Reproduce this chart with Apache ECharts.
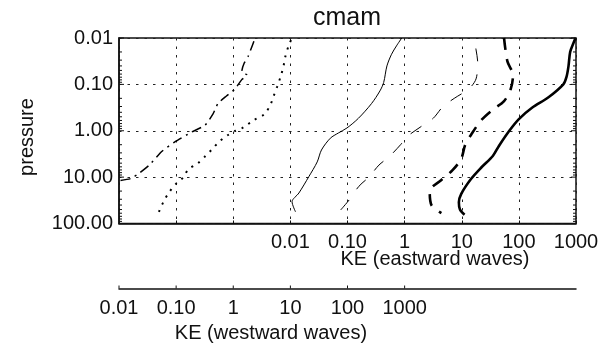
<!DOCTYPE html>
<html>
<head>
<meta charset="utf-8">
<script src="https://cdn.jsdelivr.net/npm/echarts@6/dist/echarts.min.js"></script>
<style>
  html, body { margin: 0; padding: 0; background: #fff; }
  #chart { width: 603px; height: 349px; }
</style>
</head>
<body>
<div id="chart"></div>
<script>
// ---- Eastward-wave kinetic energy profiles (KE vs pressure) ----
const pThickSolid  = [0.01, 0.013, 0.02, 0.04, 0.07, 0.1, 0.19, 0.32, 0.56, 1.0, 2.1, 3.5, 6.2, 11, 23, 35, 50, 65];
const keThickSolid = [980, 900, 790, 740, 680, 600, 330, 170, 100, 68, 45, 35, 22, 14.5, 9.8, 8.9, 9.3, 11.2];

const pThickDash   = [0.01, 0.032, 0.063, 0.126, 0.23, 0.35, 0.59, 1.23, 2.0, 4.0, 7.1, 11.5, 20, 40, 60];
const keThickDash  = [55, 63, 79, 72, 55, 35, 22, 14.5, 11.5, 9.8, 6.9, 4.4, 2.75, 2.95, 4.4];

const pThinDash    = [51, 31, 15.8, 9.8, 5.5, 3.6, 2.0, 1.32, 0.81, 0.54, 0.30, 0.20, 0.123, 0.076, 0.033, 0.018, 0.0126];
const keThinDash   = [0.076, 0.107, 0.158, 0.24, 0.355, 0.54, 0.85, 1.12, 1.95, 3.16, 4.7, 7.4, 13.5, 17.8, 19, 17.8, 17];

const pThinSolid   = [56, 34, 22, 9.8, 4.7, 2.6, 1.45, 1.12, 0.87, 0.54, 0.26, 0.138, 0.091, 0.04, 0.0224, 0.0148, 0.01];
const keThinSolid  = [0.0123, 0.0107, 0.0141, 0.021, 0.0295, 0.035, 0.05, 0.069, 0.098, 0.155, 0.263, 0.37, 0.43, 0.49, 0.59, 0.72, 0.89];

// ---- Westward-wave kinetic energy profiles ----
const pDotted      = [56, 34, 22, 13.5, 10, 6.9, 5.0, 3.6, 2.4, 1.74, 1.26, 1.0, 0.85, 0.6, 0.44, 0.27, 0.178, 0.11, 0.066, 0.04, 0.026, 0.0148, 0.01];
const keDotted     = [0.05, 0.06, 0.074, 0.102, 0.135, 0.162, 0.24, 0.32, 0.44, 0.56, 0.79, 1.1, 1.5, 2.24, 3.5, 4.5, 5.1, 5.9, 6.8, 7.6, 8.1, 9.3, 10.7];

const pDashDot     = [0.0117, 0.025, 0.035, 0.052, 0.063, 0.079, 0.126, 0.178, 0.26, 0.44, 0.76, 1.07, 1.74, 2.8, 5.5, 8.3, 10.7, 12];
const keDashDot    = [2.3, 1.82, 1.55, 1.41, 1.74, 1.41, 1.07, 0.76, 0.54, 0.44, 0.32, 0.186, 0.095, 0.056, 0.034, 0.0224, 0.0162, 0.0100];

// ---- Axis ranges and tick labels ----
const eastRange = [1e-5, 1000];
const westRange = [0.01, 1e6];
const pRange = [0.01, 100];
const yTickValues = [0.01, 0.1, 1, 10, 100];
const yTickLabels = ['0.01', '0.10', '1.00', '10.00', '100.00'];
const eastTickValues = [0.01, 0.1, 1, 10, 100, 1000];
const eastTickLabels = ['0.01', '0.10', '1', '10', '100', '1000'];
const westTickValues = [0.01, 0.1, 1, 10, 100, 1000];
const westTickLabels = ['0.01', '0.10', '1', '10', '100', '1000'];

const FONT = '"Liberation Sans", Arial, Helvetica, sans-serif';
const INK = '#111';
const WEST_OFFSET = 65;

function labelFor(values, labels) {
  return function (v) {
    const i = values.findIndex(t => Math.abs(Math.log10(t) - Math.log10(v)) < 1e-6);
    return i >= 0 ? labels[i] : '';
  };
}
function pairs(xs, ys) { return xs.map((x, i) => [x, ys[i]]); }

// tick marks on both vertical frame edges: decades long, 2..9 short
const yTicks = [];
for (let d = -2; d <= 2; d++) {
  yTicks.push([eastRange[0], Math.pow(10, d), 1]);
  if (d < 2) for (let k = 2; k <= 9; k++) yTicks.push([eastRange[0], +(k * Math.pow(10, d)).toPrecision(3), 0]);
}

const chart = echarts.init(document.getElementById('chart'), null, { renderer: 'canvas' });

const option = {
  backgroundColor: '#fff',
  animation: false,
  grid: {
    left: 119, right: 27, top: 38, bottom: 125.5,
    show: true, borderColor: INK, borderWidth: 1.5, backgroundColor: 'transparent',
    outerBoundsMode: 'none'
  },
  xAxis: [
    {
      type: 'log', logBase: 10, min: eastRange[0], max: eastRange[1], interval: 1,
      position: 'bottom',
      axisLine: { show: true, lineStyle: { color: INK, width: 1.5 } },
      axisTick: { show: true, inside: true, length: 3, lineStyle: { color: INK } },
      axisLabel: {
        show: true, margin: 9, color: INK, fontFamily: FONT, fontSize: 20,
        formatter: labelFor(eastTickValues, eastTickLabels), hideOverlap: false
      },
      splitLine: { show: true, lineStyle: { color: '#222', width: 1, type: [2.5, 6] } },
      minorTick: { show: false }, minorSplitLine: { show: false }
    },
    {
      type: 'log', logBase: 10, min: westRange[0], max: westRange[1], interval: 1,
      position: 'bottom', offset: WEST_OFFSET,
      axisLine: { show: true, lineStyle: { color: INK, width: 1.5 } },
      axisTick: { show: false },
      axisLabel: {
        show: true, margin: 10, color: INK, fontFamily: FONT, fontSize: 20,
        formatter: labelFor(westTickValues, westTickLabels), hideOverlap: false
      },
      splitLine: { show: false }
    }
  ],
  yAxis: [
    {
      type: 'log', logBase: 10, min: pRange[0], max: pRange[1], interval: 1, inverse: true,
      position: 'left',
      axisLine: { show: true, lineStyle: { color: INK, width: 1.5 } },
      axisTick: { show: false },
      axisLabel: {
        show: true, margin: 6, color: INK, fontFamily: FONT, fontSize: 20,
        formatter: labelFor(yTickValues, yTickLabels)
      },
      splitLine: { show: true, lineStyle: { color: '#222', width: 1, type: [2.5, 6] } }
    }
  ],
  graphic: [
    { type: 'text', x: 347, y: 18, style: { text: 'cmam', fill: INK, font: '25px ' + FONT, align: 'center', verticalAlign: 'middle' } },
    { type: 'text', x: 27, y: 137, rotation: Math.PI / 2, style: { text: 'pressure', fill: INK, font: '20px ' + FONT, align: 'center', verticalAlign: 'middle' } },
    { type: 'text', x: 435, y: 259, style: { text: 'KE (eastward waves)', fill: INK, font: '20px ' + FONT, align: 'center', verticalAlign: 'middle' } },
    { type: 'text', x: 271, y: 333, style: { text: 'KE (westward waves)', fill: INK, font: '20px ' + FONT, align: 'center', verticalAlign: 'middle' } }
  ],
  series: [
    {
      name: 'frame ticks', type: 'custom', xAxisIndex: 0, yAxisIndex: 0, silent: true, clip: false, z: 5,
      data: yTicks,
      renderItem: function (params, api) {
        const v = api.value(1);
        const len = api.value(2) ? 5 : 3;
        const l = api.coord([eastRange[0], v]);
        const r = api.coord([eastRange[1], v]);
        const st = { stroke: INK, lineWidth: 1 };
        return {
          type: 'group', children: [
            { type: 'line', shape: { x1: l[0], y1: l[1], x2: l[0] + len, y2: l[1] }, style: st },
            { type: 'line', shape: { x1: r[0] - len, y1: r[1], x2: r[0], y2: r[1] }, style: st }
          ]
        };
      }
    },
    {
      name: 'westward ticks', type: 'custom', xAxisIndex: 1, yAxisIndex: 0, silent: true, clip: false, z: 5,
      data: westTickValues.map(w => [w, pRange[1]]),
      renderItem: function (params, api) {
        const c = api.coord([api.value(0), api.value(1)]);
        const y = c[1] + WEST_OFFSET;
        return { type: 'line', shape: { x1: c[0], y1: y, x2: c[0], y2: y - 3 }, style: { stroke: INK, lineWidth: 1 } };
      }
    },
    {
      name: 'thick solid', type: 'line', xAxisIndex: 0, yAxisIndex: 0, showSymbol: false, smooth: 0.3,
      data: pairs(keThickSolid, pThickSolid),
      lineStyle: { color: '#000', width: 2.6 }
    },
    {
      name: 'thick dashed', type: 'line', xAxisIndex: 0, yAxisIndex: 0, showSymbol: false, smooth: 0.3,
      data: pairs(keThickDash, pThickDash),
      lineStyle: { color: '#000', width: 2.6, type: [12, 9] }
    },
    {
      name: 'thin dashed', type: 'line', xAxisIndex: 0, yAxisIndex: 0, showSymbol: false, smooth: 0.3,
      data: pairs(keThinDash, pThinDash),
      lineStyle: { color: '#000', width: 1, type: [13, 13] }
    },
    {
      name: 'thin solid', type: 'line', xAxisIndex: 0, yAxisIndex: 0, showSymbol: false, smooth: 0.3,
      data: pairs(keThinSolid, pThinSolid),
      lineStyle: { color: '#000', width: 1 }
    },
    {
      name: 'dotted', type: 'line', xAxisIndex: 1, yAxisIndex: 0, showSymbol: false, smooth: 0.3,
      data: pairs(keDotted, pDotted),
      lineStyle: { color: '#000', width: 2, type: [2, 6] }
    },
    {
      name: 'dash-dot', type: 'line', xAxisIndex: 1, yAxisIndex: 0, showSymbol: false, smooth: 0.2,
      data: pairs(keDashDot, pDashDot),
      lineStyle: { color: '#000', width: 1.5, type: [10, 5, 2, 5] }
    }
  ]
};

chart.setOption(option);
</script>
</body>
</html>
